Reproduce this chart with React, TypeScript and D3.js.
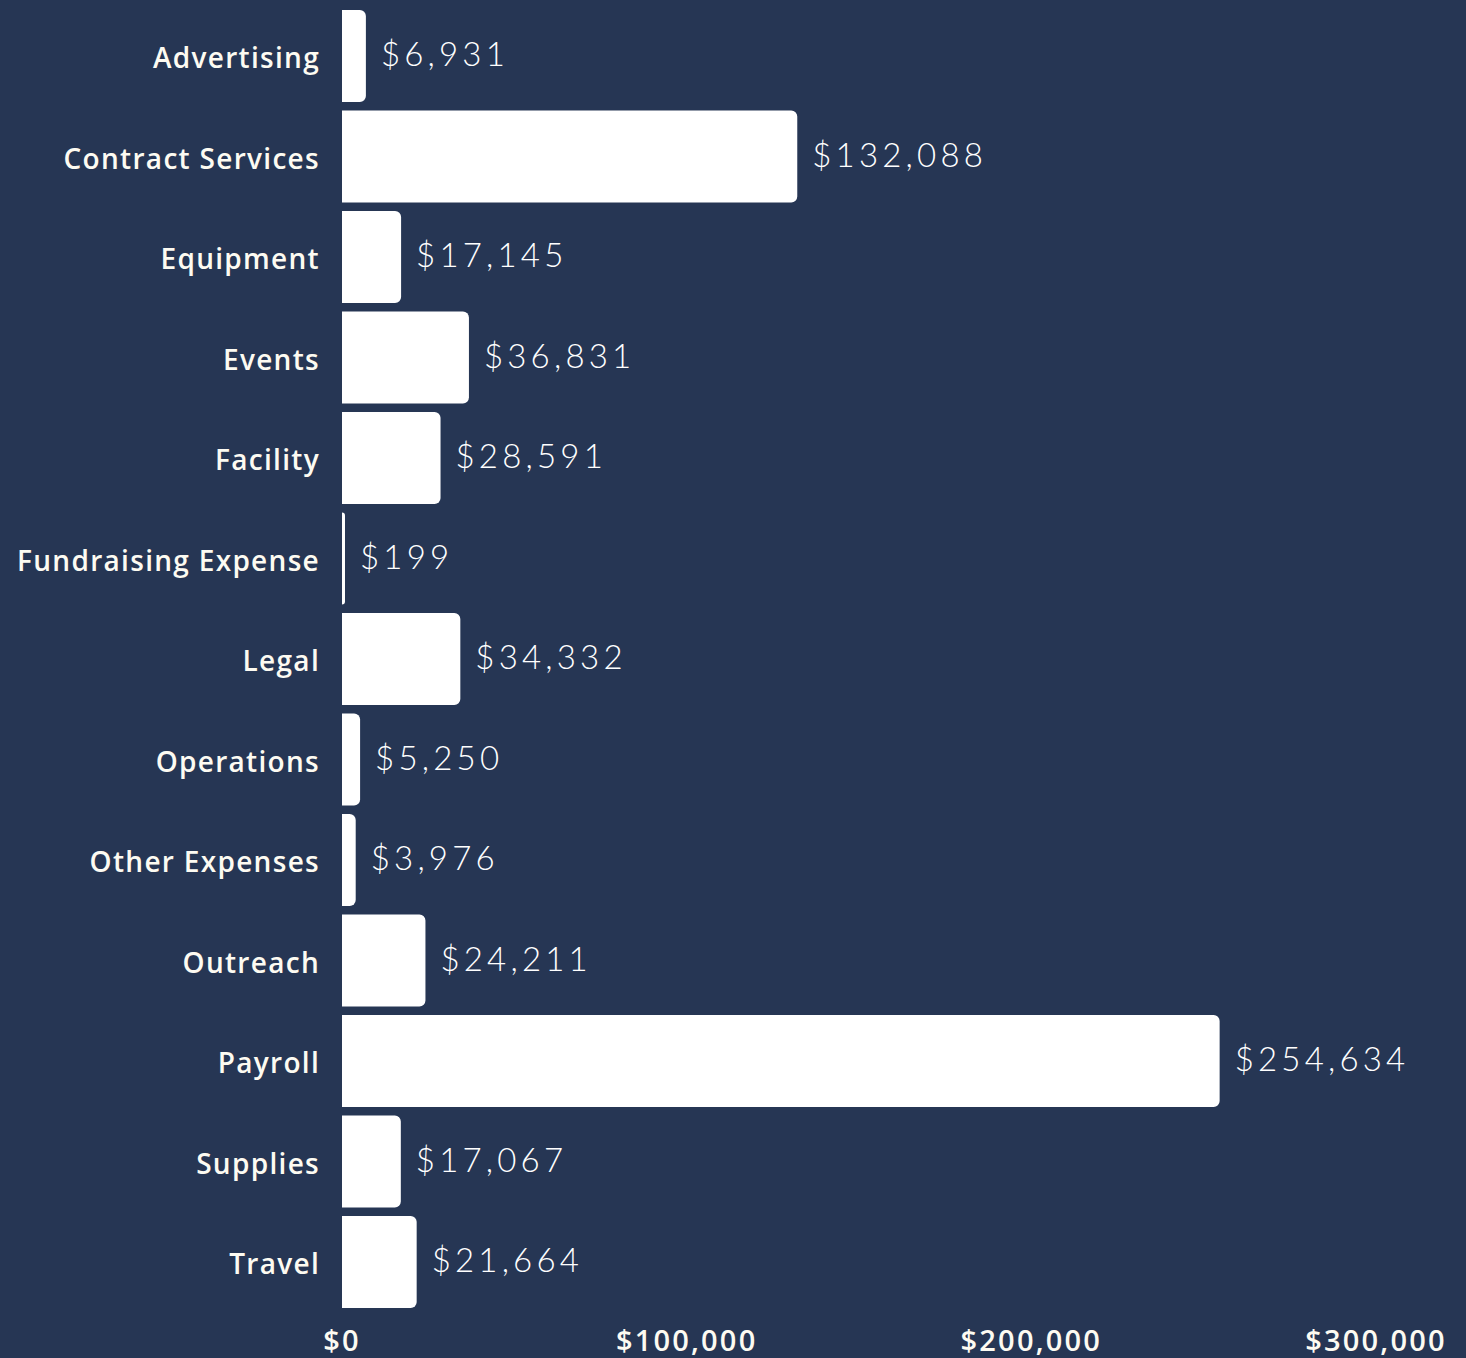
import React, { useEffect, useRef } from "react";
import * as d3 from "d3";

const categories = [
  "Advertising",
  "Contract Services",
  "Equipment",
  "Events",
  "Facility",
  "Fundraising Expense",
  "Legal",
  "Operations",
  "Other Expenses",
  "Outreach",
  "Payroll",
  "Supplies",
  "Travel",
];

const amounts = [
  6931, 132088, 17145, 36831, 28591, 199, 34332, 5250, 3976, 24211, 254634,
  17067, 21664,
];

const xTicks = [0, 100000, 200000, 300000];

const WIDTH = 1466;
const HEIGHT = 1358;
const BG = "#263654";

// bar with rounded right end only
function barPath(x0: number, y0: number, w: number, h: number, r: number) {
  const rr = Math.min(r, w, h / 2);
  return `M${x0},${y0}H${x0 + w - rr}A${rr},${rr} 0 0 1 ${x0 + w},${y0 + rr}V${
    y0 + h - rr
  }A${rr},${rr} 0 0 1 ${x0 + w - rr},${y0 + h}H${x0}Z`;
}

const App: React.FC = () => {
  const svgRef = useRef<SVGSVGElement | null>(null);

  useEffect(() => {
    document.body.style.margin = "0";
    document.body.style.background = BG;

    const data = categories.map((c, i) => ({ key: c, value: amounts[i] }));

    const svg = d3.select(svgRef.current);
    svg.selectAll("*").remove();

    const x = d3.scaleLinear().domain([0, 300000]).range([342, 1376]);

    const y = d3
      .scaleBand()
      .domain(categories)
      .range([5.75, 1312.25])
      .paddingInner(0.085)
      .paddingOuter(0.0425);

    svg
      .append("rect")
      .attr("width", WIDTH)
      .attr("height", HEIGHT)
      .attr("fill", BG);

    // Bars
    svg
      .append("g")
      .selectAll("path")
      .data(data)
      .join("path")
      .attr("d", (d) =>
        barPath(
          x(0),
          y(d.key) || 0,
          Math.max(x(d.value) - x(0), 3),
          y.bandwidth(),
          6
        )
      )
      .attr("fill", "#ffffff");

    // Value labels
    svg
      .append("g")
      .selectAll("text")
      .data(data)
      .join("text")
      .attr("x", (d) => Math.max(x(d.value), x(0) + 3) + 15)
      .attr("y", (d) => (y(d.key) || 0) + y.bandwidth() / 2 - 3)
      .attr("dominant-baseline", "central")
      .attr("fill", "#ffffff")
      .attr("font-family", "Lato, 'Open Sans', sans-serif")
      .attr("font-weight", 300)
      .attr("font-size", 33)
      .attr("letter-spacing", 4.2)
      .text((d) => "$" + d3.format(",")(d.value));

    // Category labels
    svg
      .append("g")
      .selectAll("text")
      .data(data)
      .join("text")
      .attr("x", 320)
      .attr("y", (d) => (y(d.key) || 0) + y.bandwidth() / 2 + 1)
      .attr("dominant-baseline", "central")
      .attr("text-anchor", "end")
      .attr("fill", "#fdfbf2")
      .attr("font-family", "'Open Sans', sans-serif")
      .attr("font-weight", 600)
      .attr("font-size", 28)
      .attr("letter-spacing", 1.3)
      .text((d) => d.key);

    // X axis tick labels
    svg
      .append("g")
      .selectAll("text")
      .data(xTicks)
      .join("text")
      .attr("x", (d) => x(d))
      .attr("y", 1351)
      .attr("text-anchor", "middle")
      .attr("fill", "#fdfbf2")
      .attr("font-family", "'Open Sans', sans-serif")
      .attr("font-weight", 600)
      .attr("font-size", 29)
      .attr("letter-spacing", 2.2)
      .text((d) => "$" + d3.format(",")(d));
  }, []);

  return (
    <svg
      ref={svgRef}
      width={WIDTH}
      height={HEIGHT}
      style={{ display: "block" }}
    ></svg>
  );
};

export default App;
